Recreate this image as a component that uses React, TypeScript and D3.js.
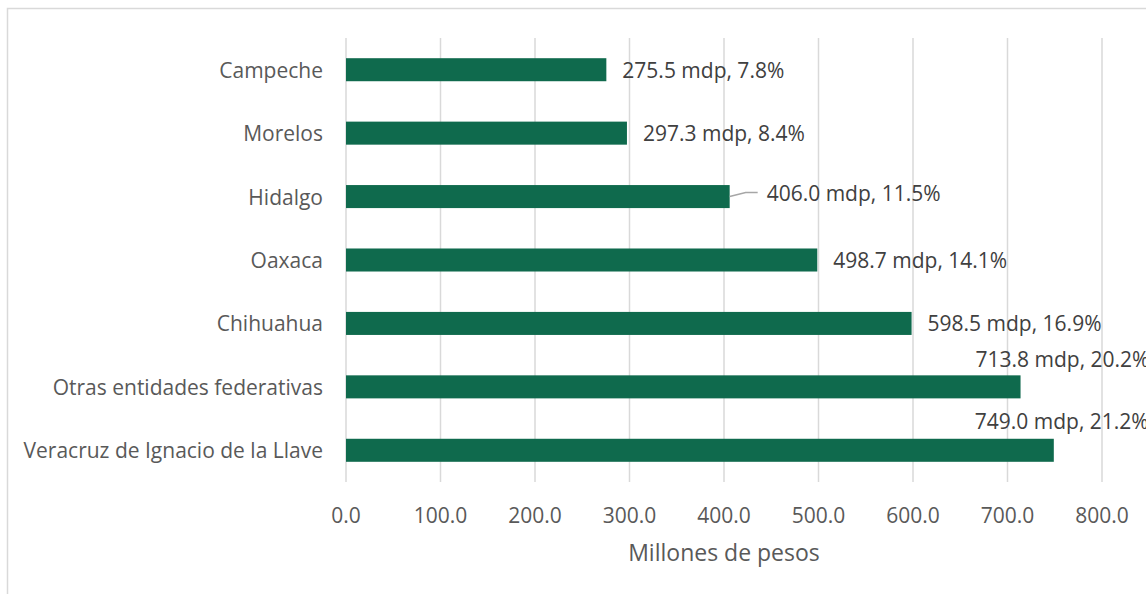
import React from "react";
import * as d3 from "d3";

const categories = [
  "Campeche",
  "Morelos",
  "Hidalgo",
  "Oaxaca",
  "Chihuahua",
  "Otras entidades federativas",
  "Veracruz de Ignacio de la Llave",
];
const values = [275.5, 297.3, 406.0, 498.7, 598.5, 713.8, 749.0];
const shares = [7.8, 8.4, 11.5, 14.1, 16.9, 20.2, 21.2];
const xTicks = [0, 100, 200, 300, 400, 500, 600, 700, 800];
const axisTitle = "Millones de pesos";

// manual data-label placement (Excel-like moved labels): [dx from bar end, dy from bar center, leader]
const labelLayout: Array<{ dx: number; dy: number; leader?: boolean }> = [
  { dx: 16, dy: 0 },
  { dx: 16, dy: 0 },
  { dx: 37, dy: -4, leader: true },
  { dx: 16, dy: 0 },
  { dx: 16, dy: 0 },
  { dx: -45, dy: -28 },
  { dx: -79, dy: -29 },
];

const W = 1146;
const H = 594;
const FONT = "'Open Sans', sans-serif";

export default function App() {
  const x = d3.scaleLinear().domain([0, 800]).range([346, 1102]);
  const y = d3
    .scaleBand<string>()
    .domain(categories)
    .range([38, 482])
    .paddingInner(0.637)
    .paddingOuter(0.3185);
  const bw = y.bandwidth();

  return (
    <svg
      width={W}
      height={H}
      style={{ position: "absolute", left: 0, top: 0, display: "block", background: "#fff" }}
    >
      <rect x={7.5} y={8.5} width={W + 20} height={H + 20} fill="#fff" stroke="#d9d9d9" strokeWidth={1.5} />
      {xTicks.map((t) => (
        <line key={"g" + t} x1={x(t)} x2={x(t)} y1={38} y2={482} stroke="#d9d9d9" strokeWidth={1.5} />
      ))}
      {categories.map((c) => {
        const yc = (y(c) ?? 0) + bw / 2;
        return (
          <text
            key={"c" + c}
            x={323}
            y={yc}
            textAnchor="end"
            dominantBaseline="central"
            fontFamily={FONT}
            fontSize={21}
            fill="#595959"
          >
            {c}
          </text>
        );
      })}
      {categories.map((c, i) => (
        <rect
          key={"b" + c}
          x={x(0)}
          y={y(c)}
          width={x(values[i]) - x(0)}
          height={bw}
          fill="#0f6a4d"
        />
      ))}
      {categories.map((c, i) => {
        const yc = (y(c) ?? 0) + bw / 2;
        const xe = x(values[i]);
        const L = labelLayout[i];
        const tx = xe + L.dx;
        const ty = yc + L.dy;
        return (
          <g key={"l" + c}>
            {L.leader && (
              <polyline
                points={`${xe},${yc} ${xe + 16},${ty} ${tx - 9},${ty}`}
                fill="none"
                stroke="#a6a6a6"
                strokeWidth={1.5}
              />
            )}
            <text
              x={tx}
              y={ty}
              dominantBaseline="central"
              fontFamily={FONT}
              fontSize={21}
              fill="#404040"
            >
              {`${d3.format(".1f")(values[i])} mdp, ${d3.format(".1f")(shares[i])}%`}
            </text>
          </g>
        );
      })}
      {xTicks.map((t) => (
        <text
          key={"t" + t}
          x={x(t)}
          y={515}
          textAnchor="middle"
          dominantBaseline="central"
          fontFamily={FONT}
          fontSize={21}
          fill="#595959"
        >
          {d3.format(".1f")(t)}
        </text>
      ))}
      <text
        x={(x(0) + x(800)) / 2}
        y={552}
        textAnchor="middle"
        dominantBaseline="central"
        fontFamily={FONT}
        fontSize={23}
        fill="#595959"
      >
        {axisTitle}
      </text>
    </svg>
  );
}
